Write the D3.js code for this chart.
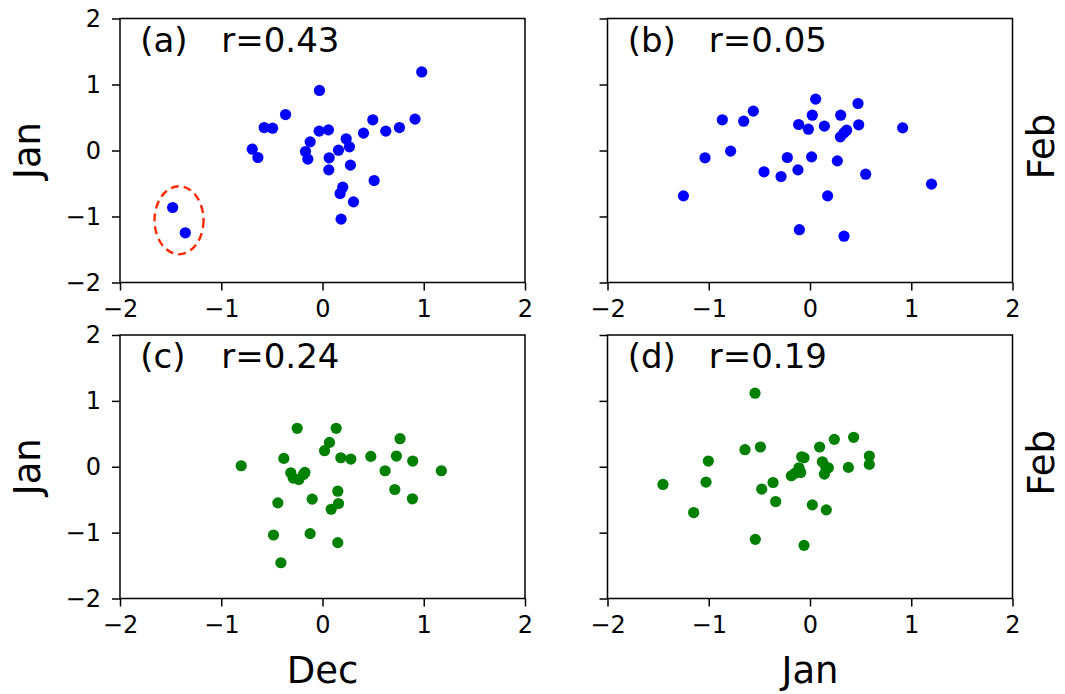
<!DOCTYPE html>
<html>
<head>
<meta charset="utf-8">
<script src="https://cdn.jsdelivr.net/npm/d3@7"></script>
<style>
  body { margin: 0; background: #fff; }
  svg { display: block; }
  text { font-family: "DejaVu Sans", sans-serif; }
  .tick text { font-size: 24px; }
</style>
</head>
<body>
<svg id="chart" width="1065" height="694"></svg>
<script>
// ---------- data ----------
const tickValues = [-2, -1, 0, 1, 2];

// (a) Dec vs Jan
const aX = [0.98, -0.03, -0.365, -0.576, -0.493, -0.694, -0.638, -0.122, -0.033, 0.059, -0.168, -0.145, 0.066, 0.062, 0.158, 0.234, 0.266, 0.276, 0.405, 0.497, 0.625, 0.76, 0.914, 0.51, 0.2, 0.174, 0.306, 0.184, -1.48, -1.355];
const aY = [1.19, 0.91, 0.545, 0.348, 0.338, 0.02, -0.106, 0.131, 0.293, 0.313, -0.015, -0.131, -0.111, -0.293, 0.005, 0.177, 0.056, -0.222, 0.263, 0.465, 0.293, 0.348, 0.475, -0.455, -0.556, -0.652, -0.778, -1.04, -0.864, -1.247];

// (b) Jan vs Feb
const bX = [0.056, 0.474, -0.56, -0.866, -0.655, 0.023, 0.303, -0.112, -0.016, 0.142, 0.481, 0.362, 0.336, 0.3, 0.915, -1.037, -0.784, -0.224, 0.016, 0.27, -0.454, -0.286, -0.119, 0.55, 1.2, -1.25, 0.174, -0.105, 0.336];
const bY = [0.778, 0.712, 0.596, 0.465, 0.444, 0.535, 0.535, 0.394, 0.323, 0.369, 0.389, 0.308, 0.268, 0.207, 0.343, -0.111, -0.01, -0.106, -0.096, -0.157, -0.323, -0.394, -0.293, -0.359, -0.51, -0.687, -0.687, -1.2, -1.298];

// (c) Dec vs Jan
const cX = [-0.25, 0.135, 0.766, 0.069, 0.02, -0.382, 0.181, 0.28, 0.477, 0.73, 0.891, -0.803, -0.313, -0.174, -0.289, -0.234, -0.188, 0.618, 1.174, 0.151, 0.714, -0.441, -0.102, 0.158, 0.086, 0.888, -0.484, -0.122, 0.151, -0.411];
const cY = [0.584, 0.584, 0.426, 0.37, 0.244, 0.127, 0.137, 0.117, 0.157, 0.162, 0.086, 0.015, -0.091, -0.086, -0.173, -0.193, -0.117, -0.061, -0.061, -0.371, -0.345, -0.548, -0.492, -0.558, -0.645, -0.487, -1.036, -1.015, -1.152, -1.457];

// (d) Jan vs Feb
const dX = [-0.543, 0.24, 0.431, -0.642, -0.49, 0.095, -1.004, -0.082, -0.059, 0.586, 0.586, 0.122, 0.155, 0.181, 0.379, 0.142, -0.109, -0.092, -0.151, -0.184, -1.452, -1.027, -0.365, -0.477, -0.339, 0.023, 0.161, -1.149, -0.54, -0.059];
const dY = [1.117, 0.416, 0.447, 0.259, 0.3, 0.3, 0.086, 0.152, 0.137, 0.162, 0.036, 0.076, 0.0, -0.015, -0.01, -0.112, -0.015, -0.086, -0.1, -0.137, -0.269, -0.234, -0.239, -0.34, -0.528, -0.579, -0.655, -0.695, -1.102, -1.193];

const panelLabels = ["(a)", "(b)", "(c)", "(d)"];
const rLabels = ["r=0.43", "r=0.05", "r=0.24", "r=0.19"];
const xLabels = [null, null, "Dec", "Jan"];
const yLabelsLeft = ["Jan", null, "Jan", null];
const yLabelsRight = [null, "Feb", null, "Feb"];
const colors = ["#0000ff", "#0000ff", "#008000", "#008000"];

// outlier ellipse in panel (a): center x, center y, radius x, radius y (data units)
const ellipse = { cx: -1.417, cy: -1.056, rx: 0.242, ry: 0.515 };

// ---------- layout ----------
const svg = d3.select("#chart");
const cols = [[120, 525], [607.5, 1012.5]];
const rows = [[18.5, 282.5], [335, 598.5]];
const panels = [
  { x: aX, y: aY, c: 0, r: 0 },
  { x: bX, y: bY, c: 1, r: 0 },
  { x: cX, y: cY, c: 0, r: 1 },
  { x: dX, y: dY, c: 1, r: 1 },
];

const fmt = v => (v < 0 ? "\u2212" + Math.abs(v) : String(v));

panels.forEach((p, i) => {
  const [x0, x1] = cols[p.c];
  const [y0, y1] = rows[p.r];
  const xs = d3.scaleLinear().domain([-2, 2]).range([x0, x1]);
  const ys = d3.scaleLinear().domain([-2, 2]).range([y1, y0]);
  const g = svg.append("g");

  // points
  g.append("g").selectAll("circle")
    .data(d3.range(p.x.length))
    .join("circle")
    .attr("cx", k => xs(p.x[k]))
    .attr("cy", k => ys(p.y[k]))
    .attr("r", 5.6)
    .attr("fill", colors[i]);

  if (i === 0) {
    g.append("ellipse")
      .attr("cx", xs(ellipse.cx))
      .attr("cy", ys(ellipse.cy))
      .attr("rx", xs(ellipse.cx + ellipse.rx) - xs(ellipse.cx))
      .attr("ry", ys(ellipse.cy) - ys(ellipse.cy + ellipse.ry))
      .attr("fill", "none")
      .attr("stroke", "#ff2a00")
      .attr("stroke-width", 2.4)
      .attr("stroke-dasharray", "8,5");
  }

  // axes
  const xAxis = d3.axisBottom(xs).tickValues(tickValues).tickSize(8).tickPadding(9)
    .tickFormat(fmt);
  const yAxis = d3.axisLeft(ys).tickValues(tickValues).tickSize(8).tickPadding(11)
    .tickFormat(p.c === 0 ? fmt : () => "");

  const gx = g.append("g").attr("transform", `translate(0,${y1})`).call(xAxis);
  const gy = g.append("g").attr("transform", `translate(${x0},0)`).call(yAxis);
  [gx, gy].forEach(a => {
    a.select(".domain").remove();
    a.attr("font-size", null).attr("font-family", null);
    a.selectAll("line").attr("stroke", "#000").attr("stroke-width", 1.5);
    a.selectAll("text").attr("fill", "#000")
      .style("font-size", "24px")
      .style("font-family", "'DejaVu Sans', sans-serif");
  });

  // frame
  g.append("rect")
    .attr("x", x0).attr("y", y0)
    .attr("width", x1 - x0).attr("height", y1 - y0)
    .attr("fill", "none").attr("stroke", "#000").attr("stroke-width", 1.5);

  // panel annotations
  g.append("text").attr("x", xs(-1.8)).attr("y", ys(1.5))
    .attr("font-size", 34).text(panelLabels[i]);
  g.append("text").attr("x", xs(-1.0)).attr("y", ys(1.5))
    .attr("font-size", 34).text(rLabels[i]);

  // axis labels
  if (xLabels[i]) {
    g.append("text").attr("x", (x0 + x1) / 2).attr("y", 683)
      .attr("text-anchor", "middle").attr("font-size", 37).text(xLabels[i]);
  }
  if (yLabelsLeft[i]) {
    const cy = (y0 + y1) / 2;
    g.append("text").attr("transform", `translate(40,${cy}) rotate(-90)`)
      .attr("text-anchor", "middle").attr("font-size", 37).text(yLabelsLeft[i]);
  }
  if (yLabelsRight[i]) {
    const cy = (y0 + y1) / 2 - 4;
    g.append("text").attr("transform", `translate(1054,${cy}) rotate(-90)`)
      .attr("text-anchor", "middle").attr("font-size", 37).text(yLabelsRight[i]);
  }
});
</script>
</body>
</html>
